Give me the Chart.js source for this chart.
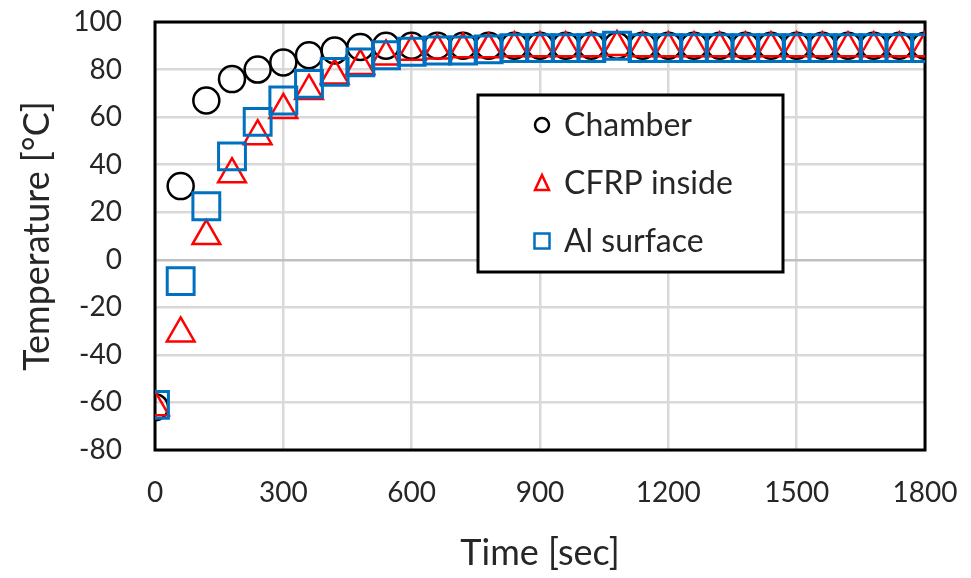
<!DOCTYPE html>
<html>
<head>
<meta charset="utf-8">
<script src="https://cdn.jsdelivr.net/npm/chart.js@4.4.1/dist/chart.umd.min.js"></script>
<style>
  body { margin: 0; background: #fff; }
  #wrap { width: 971px; height: 578px; }
</style>
</head>
<body>
<div id="wrap"><canvas id="tempChart"></canvas></div>
<script>
// time of each reading, seconds
const times = [0, 60, 120, 180, 240, 300, 360, 420, 480, 540, 600, 660, 720, 780, 840, 900,
  960, 1020, 1080, 1140, 1200, 1260, 1320, 1380, 1440, 1500, 1560, 1620, 1680, 1740, 1800];

const chamberTemp = [-62, 31, 67, 76, 80, 83, 86, 88, 89.5, 90, 90, 90, 90, 90, 90, 90,
  90, 90, 90, 90, 90, 90, 90, 90, 90, 90, 90, 90, 90, 90, 90];
const cfrpTemp = [-62, -31, 10, 36, 52, 63, 71, 77.5, 81.5, 85.5, 87.5, 88, 88.5, 88.5, 89, 89,
  89, 89, 89.5, 89, 89, 89, 89, 89, 89, 89, 89, 89, 89, 89, 89];
const alTemp = [-61, -9, 22.5, 43.5, 58, 67, 74, 79, 83, 86, 87.5, 88, 88, 88.5, 89, 89,
  89, 89, 90, 89, 89, 89, 89, 89, 89, 89, 89, 89, 89, 89, 89];

const xTicks = [0, 300, 600, 900, 1200, 1500, 1800];
const yTicks = [-80, -60, -40, -20, 0, 20, 40, 60, 80, 100];

const FONT = 'Lato, "Open Sans", sans-serif';

function toPoints(values) {
  return times.map((t, i) => ({ x: t, y: values[i] }));
}

// black frame round the plot area
const plotFrame = {
  id: 'plotFrame',
  beforeDatasetsDraw(chart) {
    const { ctx, chartArea: a } = chart;
    ctx.save();
    ctx.strokeStyle = '#000';
    ctx.lineWidth = 3;
    ctx.strokeRect(a.left, a.top, a.right - a.left, a.bottom - a.top);
    ctx.restore();
  }
};

// boxed legend sitting inside the plot
const boxLegend = {
  id: 'boxLegend',
  afterDatasetsDraw(chart, args, opts) {
    const { ctx, chartArea: a } = chart;
    const x = a.left + opts.x, y = a.top + opts.y;
    ctx.save();
    ctx.fillStyle = '#fff';
    ctx.fillRect(x, y, opts.width, opts.height);
    ctx.strokeStyle = '#000';
    ctx.lineWidth = 3;
    ctx.strokeRect(x, y, opts.width, opts.height);
    ctx.font = opts.font;
    ctx.textBaseline = 'middle';
    chart.data.datasets.forEach((ds, i) => {
      const cy = y + opts.firstRow + i * opts.rowGap;
      const cx = x + opts.markerX;
      ctx.lineWidth = 2.5;
      ctx.strokeStyle = ds.borderColor;
      ctx.beginPath();
      if (ds.pointStyle === 'circle') {
        ctx.arc(cx, cy, 7, 0, Math.PI * 2);
      } else if (ds.pointStyle === 'triangle') {
        ctx.moveTo(cx, cy - 8);
        ctx.lineTo(cx + 7, cy + 7);
        ctx.lineTo(cx - 7, cy + 7);
        ctx.closePath();
      } else {
        ctx.rect(cx - 7.5, cy - 7.5, 15, 15);
      }
      ctx.stroke();
      ctx.fillStyle = '#262626';
      ctx.fillText(ds.label, x + opts.textX, cy + 1);
    });
    ctx.restore();
  }
};

new Chart(document.getElementById('tempChart'), {
  type: 'scatter',
  data: {
    datasets: [
      {
        label: 'Chamber',
        data: toPoints(chamberTemp),
        pointStyle: 'circle',
        pointRadius: 13,
        borderWidth: 2.5,
        borderColor: '#000000',
        backgroundColor: 'rgba(0,0,0,0)',
        order: 3
      },
      {
        label: 'CFRP inside',
        data: toPoints(cfrpTemp),
        pointStyle: 'triangle',
        pointRadius: 16,
        borderWidth: 2.5,
        borderColor: '#ff0000',
        backgroundColor: 'rgba(0,0,0,0)',
        order: 2
      },
      {
        label: 'Al surface',
        data: toPoints(alTemp),
        pointStyle: 'rect',
        pointRadius: 19,
        borderWidth: 3,
        borderColor: '#0070c0',
        backgroundColor: 'rgba(0,0,0,0)',
        order: 1
      }
    ]
  },
  options: {
    responsive: true,
    maintainAspectRatio: false,
    animation: false,
    layout: { padding: { top: 22, right: 46, left: 0, bottom: 0 } },
    plugins: {
      legend: { display: false },
      tooltip: { enabled: false },
      boxLegend: {
        x: 323, y: 73, width: 305, height: 177,
        markerX: 64, textX: 86, firstRow: 30, rowGap: 58,
        font: '32px ' + FONT
      }
    },
    scales: {
      x: {
        type: 'linear',
        min: 0,
        max: 1800,
        afterBuildTicks: (scale) => { scale.ticks = xTicks.map(v => ({ value: v })); },
        afterFit: (scale) => {
          scale.height = 128;
          scale.paddingLeft = 0;
          scale.paddingRight = 0;
        },
        grid: { color: '#d9d9d9', lineWidth: 2.5, drawTicks: false },
        border: { display: false },
        ticks: {
          color: '#262626', font: { family: FONT, size: 28 }, padding: 26, maxRotation: 0,
          callback: (v) => String(v)
        },
        title: { display: true, text: 'Time [sec]', color: '#262626', font: { family: FONT, size: 36 }, padding: { bottom: 3 } }
      },
      y: {
        min: -80,
        max: 100,
        afterBuildTicks: (scale) => { scale.ticks = yTicks.map(v => ({ value: v })); },
        afterFit: (scale) => {
          scale.width = 155;
          scale.paddingTop = 0;
          scale.paddingBottom = 0;
        },
        grid: {
          color: (c) => c.tick && c.tick.value === 0 ? '#bfbfbf' : '#d9d9d9',
          lineWidth: 2.5,
          drawTicks: false
        },
        border: { display: false },
        ticks: { color: '#262626', font: { family: FONT, size: 28 }, padding: 33 },
        title: { display: true, text: 'Temperature [°C]', color: '#262626', font: { family: FONT, size: 36 }, padding: { top: 16 } }
      }
    }
  },
  plugins: [plotFrame, boxLegend]
});
</script>
</body>
</html>
